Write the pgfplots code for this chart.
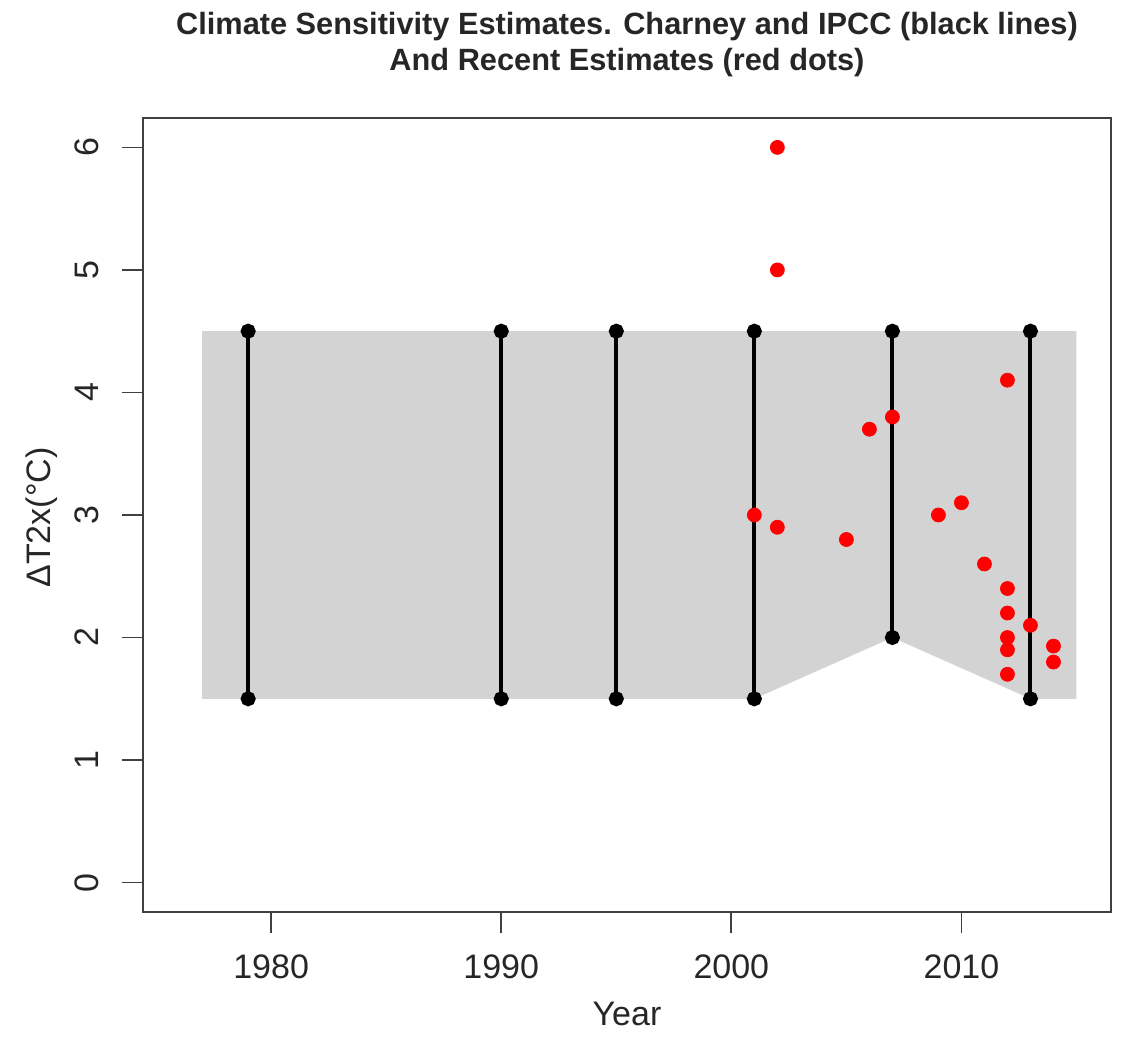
\documentclass[border=0pt]{standalone}
\usepackage{fontspec}
\setmainfont{Liberation Sans}
\usepackage{pgfplots}
\pgfplotsset{compat=1.18}

\definecolor{rgray}{HTML}{D3D3D3}

\begin{document}
\begin{tikzpicture}
\begin{axis}[
    name=ax,
    width=387.2pt, height=317.6pt,
    scale only axis,
    xmin=1974.43, xmax=2016.5,
    ymin=-0.24, ymax=6.24,
    xtick={1980,1990,2000,2010},
    ytick={0,1,2,3,4,5,6},
    axis line style={line width=0.9pt, black!75},
    major tick length=8.5pt,
    tick align=outside,
    tick style={line width=0.7pt, black!75},
    xtick pos=bottom, ytick pos=left,
    /pgf/number format/assume math mode=true,
    /pgf/number format/1000 sep={},
    tick label style={font=\fontsize{13.6}{15}\selectfont, black!85},
    xticklabel style={yshift=-5.2pt},
    yticklabel style={xshift=-5.6pt, rotate=90, anchor=south},
    xlabel={Year},
    ylabel={ΔT2x(°C)},
    every axis x label/.style={at={(rel axis cs:0.5,0)}, anchor=center, yshift=-40.8pt,
        font=\fontsize{13.6}{15}\selectfont, black!85},
    every axis y label/.style={at={(rel axis cs:0,0.5)}, xshift=-40.4pt, yshift=-1pt, anchor=center, rotate=90,
        font=\fontsize{13.6}{15}\selectfont, black!85},
    title={Climate Sensitivity Estimates. Charney and IPCC (black lines)\\And Recent Estimates (red dots)},
    title style={at={(rel axis cs:0.5,1)}, anchor=center, yshift=23.2pt, align=center,
        font=\bfseries\fontsize{12.3}{14.4}\selectfont, black!85},
    ipcc/.style={black, line width=1.6pt, mark=*, mark size=2.2pt, mark options={solid, fill=black, draw=black}},
    clip=false,
]
\addplot[fill=rgray, draw=none] coordinates {
    (1977,1.5) (2001,1.5) (2007,2.0) (2013,1.5) (2015,1.5) (2015,4.5) (1977,4.5)
} -- cycle;

\addplot[ipcc] coordinates {(1979,1.5) (1979,4.5)};
\addplot[ipcc] coordinates {(1990,1.5) (1990,4.5)};
\addplot[ipcc] coordinates {(1995,1.5) (1995,4.5)};
\addplot[ipcc] coordinates {(2001,1.5) (2001,4.5)};
\addplot[ipcc] coordinates {(2007,2.0) (2007,4.5)};
\addplot[ipcc] coordinates {(2013,1.5) (2013,4.5)};

\addplot[only marks, mark=*, mark size=2.8pt, color=red, mark options={fill=red, draw=red, line width=0.3pt}] coordinates {
    (2002,6.0) (2002,5.0) (2001,3.0) (2002,2.9) (2005,2.8) (2006,3.7)
    (2007,3.8) (2009,3.0) (2010,3.1) (2011,2.6) (2012,4.1) (2012,2.4)
    (2012,2.2) (2012,2.0) (2012,1.9) (2012,1.7) (2013,2.1) (2014,1.93)
    (2014,1.8)
};
\end{axis}
\path[use as bounding box] ([xshift=-57.2pt, yshift=-52.4pt]ax.south west)
    rectangle ([xshift=7.6pt, yshift=47.2pt]ax.north east);
\end{tikzpicture}
\end{document}
